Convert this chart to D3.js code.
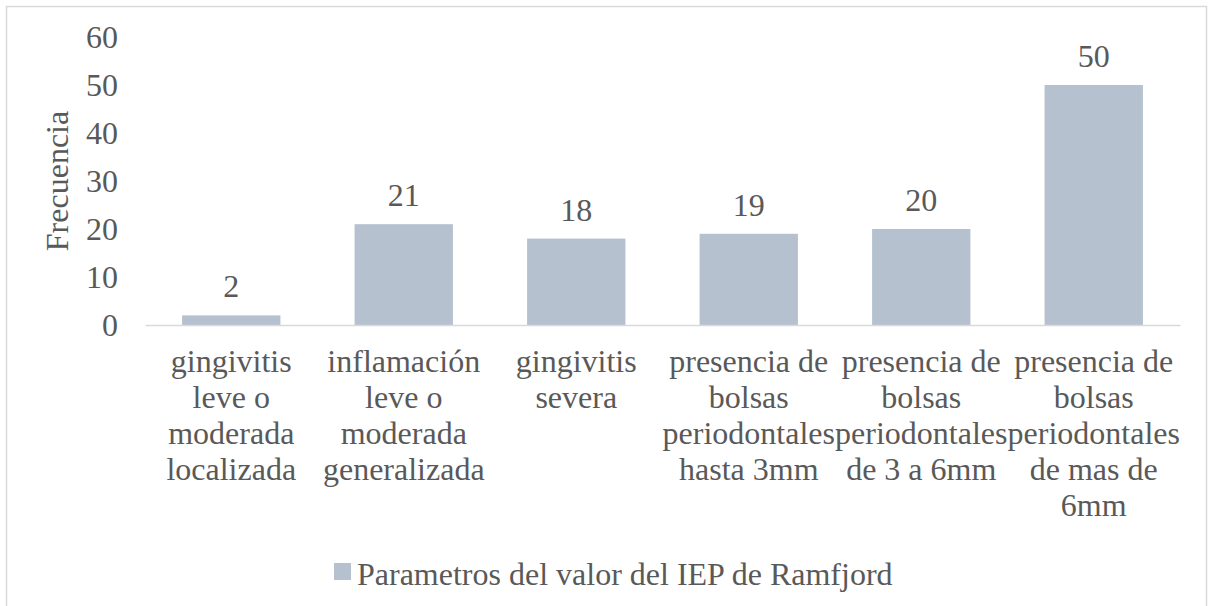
<!DOCTYPE html>
<html>
<head>
<meta charset="utf-8">
<script src="https://cdn.jsdelivr.net/npm/d3@7"></script>
<style>
  body { margin: 0; background: #fff; }
  text { font-family: "Liberation Serif", Tinos, "Times New Roman", Times, "DejaVu Serif", serif; fill: #595959; }
</style>
</head>
<body>
<div id="chart"></div>
<script>
// data
var categorias = [
  "gingivitis leve o moderada localizada",
  "inflamación leve o moderada generalizada",
  "gingivitis severa",
  "presencia de bolsas periodontales hasta 3mm",
  "presencia de bolsas periodontales de 3 a 6mm",
  "presencia de bolsas periodontales de mas de 6mm"
];
var frecuencias = [2, 21, 18, 19, 20, 50];
var yTicks = [0, 10, 20, 30, 40, 50, 60];
var serieNombre = "Parametros del valor del IEP de Ramfjord";
var ejeY = "Frecuencia";

window.onload = function () {
  var W = 1209, H = 606;
  var margin = {top: 37, right: 29, bottom: 281, left: 145};
  var width = W - margin.left - margin.right;
  var height = H - margin.top - margin.bottom;
  var fs = 32;

  var svg = d3.select("#chart")
    .append("svg")
      .attr("width", W)
      .attr("height", H);

  // chart frame
  svg.append("rect")
    .attr("x", 6.5).attr("y", 6.5)
    .attr("width", 1200).attr("height", 620)
    .attr("fill", "none")
    .attr("stroke", "#d9d9d9")
    .attr("stroke-width", 1.5);

  var g = svg.append("g")
    .attr("transform", "translate(" + margin.left + "," + margin.top + ")");

  var x = d3.scaleBand()
    .domain(categorias)
    .range([0, width])
    .paddingInner(0.43)
    .paddingOuter(0.215);

  var y = d3.scaleLinear()
    .domain([0, 60])
    .range([height, 0]);

  // y axis (labels only)
  var yAxis = g.append("g")
    .call(d3.axisLeft(y).tickValues(yTicks).tickSize(0).tickPadding(27));
  yAxis.attr("font-family", null).attr("font-size", null);
  yAxis.select(".domain").remove();
  yAxis.selectAll("text")
    .style("font-size", fs + "px")
    .attr("fill", "#595959");

  // y axis title
  g.append("text")
    .attr("transform", "translate(" + (68 - margin.left) + "," + (181 - margin.top) + ") rotate(-90)")
    .attr("text-anchor", "middle")
    .style("font-size", fs + "px")
    .text(ejeY);

  // bars
  g.selectAll(".bar")
    .data(frecuencias)
    .enter().append("rect")
      .attr("class", "bar")
      .attr("x", function (d, i) { return x(categorias[i]); })
      .attr("y", function (d) { return y(d); })
      .attr("width", x.bandwidth())
      .attr("height", function (d) { return height - y(d); })
      .attr("fill", "#b5c1cf");

  // value labels
  g.selectAll(".lbl")
    .data(frecuencias)
    .enter().append("text")
      .attr("class", "lbl")
      .attr("x", function (d, i) { return x(categorias[i]) + x.bandwidth() / 2; })
      .attr("y", function (d) { return y(d) - 18; })
      .attr("text-anchor", "middle")
      .style("font-size", fs + "px")
      .text(function (d) { return d; });

  // x axis line
  var xAxis = g.append("g")
    .attr("transform", "translate(0," + height + ")")
    .call(d3.axisBottom(x).tickSize(0).tickFormat(""));
  xAxis.select(".domain")
    .attr("stroke", "#d9d9d9")
    .attr("stroke-width", 1.5);

  // wrapped category labels
  var bw = x.step();
  categorias.forEach(function (c, i) {
    var cx = x(c) + x.bandwidth() / 2;
    var t = g.append("text")
      .attr("text-anchor", "middle")
      .style("font-size", fs + "px")
      .attr("x", cx)
      .attr("y", height + 47);
    var words = c.split(" ");
    var line = [];
    var ts = t.append("tspan").attr("x", cx).attr("dy", 0);
    words.forEach(function (w) {
      line.push(w);
      ts.text(line.join(" "));
      if (ts.node().getComputedTextLength() > bw - 2 && line.length > 1) {
        line.pop();
        ts.text(line.join(" "));
        line = [w];
        ts = t.append("tspan")
          .attr("x", cx)
          .attr("dy", 36)
          .text(w);
      }
    });
  });

  // legend
  var leg = svg.append("g").attr("transform", "translate(334,563)");
  leg.append("rect")
    .attr("width", 17).attr("height", 17)
    .attr("fill", "#b5c1cf");
  leg.append("text")
    .attr("x", 23).attr("y", 22)
    .style("font-size", fs + "px")
    .text(serieNombre);
};
</script>
</body>
</html>
